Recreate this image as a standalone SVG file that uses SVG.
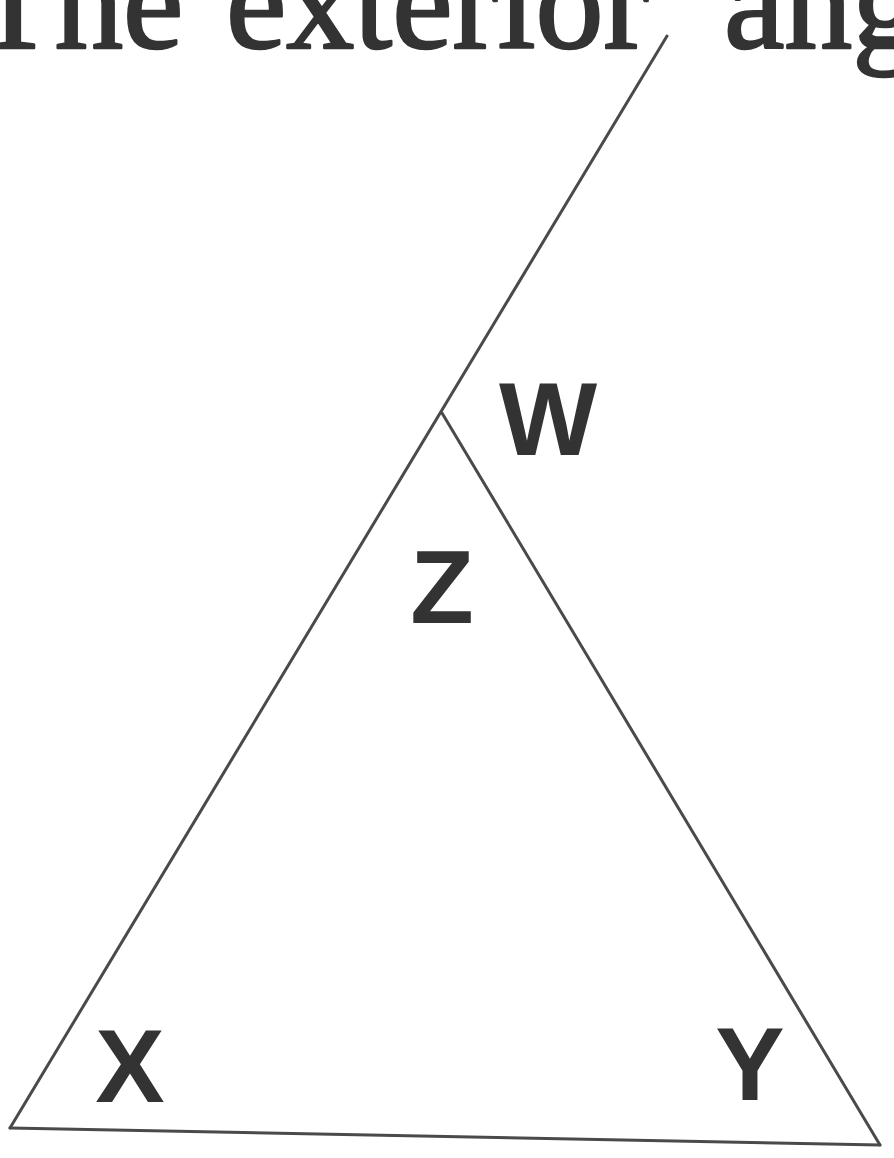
<svg xmlns="http://www.w3.org/2000/svg" width="894" height="1158" viewBox="0 0 894 1158">
<style>
.ln{stroke:#4a4a4a;stroke-width:3;fill:none;stroke-linecap:round;stroke-linejoin:round}
.lbl{font-family:"Liberation Sans",Arial,sans-serif;font-size:104px;font-weight:bold;fill:#333;text-anchor:middle}
.hdr{font-family:"Liberation Serif","Times New Roman",serif;font-size:136px;fill:#333;stroke:#333;stroke-width:2.5;stroke-linejoin:round}
</style>
<rect width="894" height="1158" fill="#ffffff"/>
<text class="hdr" y="48"><tspan x="-28">The</tspan><tspan x="226">exterior</tspan><tspan x="724">ang</tspan></text>
<g id="connectors">
<line class="ln" x1="10" y1="1128" x2="667" y2="36"/>
<line class="ln" x1="442" y1="413" x2="880" y2="1145"/>
<line class="ln" x1="10" y1="1128" x2="880" y2="1145"/>
</g>
<g id="W"><text class="lbl" x="548" y="455">W</text></g>
<g id="Z"><text class="lbl" x="442" y="623">Z</text></g>
<g id="X"><text class="lbl" x="130" y="1102">X</text></g>
<g id="Y"><text class="lbl" x="750" y="1100">Y</text></g>
</svg>
